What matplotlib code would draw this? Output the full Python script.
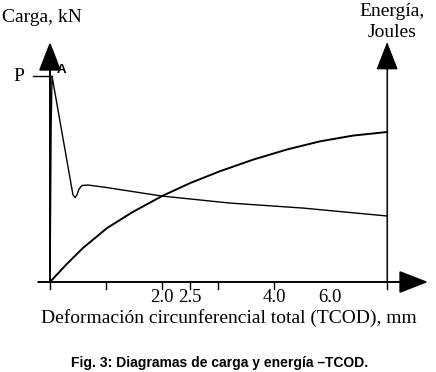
import matplotlib
matplotlib.use("Agg")
import matplotlib.pyplot as plt

# schematic units: 1 x-unit = one tick spacing, y-units arbitrary
load_x = [0.0, 0.01, 0.02, 0.036, 0.41, 0.45, 0.48, 0.52, 0.57, 0.68, 1.0, 2.0, 3.21, 4.52, 6.02]
load_y = [0.0, 3.0, 6.5, 8.58, 3.63, 3.52, 3.63, 3.88, 4.02, 4.04, 3.94, 3.58, 3.29, 3.08, 2.75]

energy_x = [0.0, 0.3, 0.59, 1.02, 1.48, 2.0, 2.5, 3.04, 3.63, 4.23, 4.82, 5.41, 6.02]
energy_y = [0.0, 0.75, 1.42, 2.25, 2.92, 3.58, 4.12, 4.62, 5.1, 5.52, 5.86, 6.1, 6.25]

tick_pos = [0, 1, 2, 2.5, 3, 4]
label_pos = [2, 2.5, 4, 5]
tick_labels = ["2.0", "2.5", "4.0", "6.0"]
p_level = 8.58
energy_axis_x = 6.02

serif = ["Liberation Serif", "DejaVu Serif"]

fig = plt.figure(figsize=(4.36, 3.72), dpi=100)
ax = fig.add_axes([0, 0, 1, 1])
ax.set_xlim(-50 / 56, (436 - 50) / 56)
ax.set_ylim(-90 / 24, 282 / 24)
ax.axis("off")

# axes with arrows
arrow = dict(arrowstyle="-|>,head_length=0.9,head_width=0.35", color="black", lw=1.4,
             shrinkA=0, shrinkB=0, mutation_scale=20)
ax.annotate("", xy=(0, 10), xytext=(0, 0), arrowprops=arrow)
ax.annotate("", xy=(6.75, 0), xytext=(-0.21, 0), arrowprops=arrow)
arrow_r = dict(arrow, lw=0.9)
ax.annotate("", xy=(energy_axis_x, 10), xytext=(energy_axis_x, 0), arrowprops=arrow_r)
ax.plot([energy_axis_x, energy_axis_x], [0, 9.2], color="#555555", lw=0.9)

for t in tick_pos + [energy_axis_x]:
    ax.plot([t, t], [0, -0.3], color="black", lw=1.0)
for p, lab in zip(label_pos, tick_labels):
    ax.text(p, -0.63, lab, ha="center", va="center", fontsize=13.5, family=serif)

# curves
ax.plot(load_x, load_y, color="black", lw=1.0)
ax.plot(energy_x, energy_y, color="black", lw=1.4)

ax.plot([-0.3, 0.04], [p_level, p_level], color="black", lw=1.0)
ax.text(-0.55, p_level, "P", ha="center", va="center", fontsize=14, family=serif)
ax.text(0.12, 8.83, "A", ha="left", va="center", fontsize=9.5, fontweight="bold",
        family="Liberation Sans")

ax.text(-0.85, 11.0, "Carga, kN", ha="left", va="center", fontsize=14, family=serif)
ax.text(6.107, 11.29, "Energía,", ha="center", va="center", fontsize=14, family=serif)
ax.text(6.107, 10.38, "Joules", ha="center", va="center", fontsize=14, family=serif)
ax.text(3.2, -1.5, "Deformación circunferencial total (TCOD), mm", ha="center", va="center",
        fontsize=14, family=serif)
ax.text(3.03, -3.375, "Fig. 3: Diagramas de carga y energía –TCOD.", ha="center", va="center",
        fontsize=10, fontweight="bold", family="Liberation Sans")

fig.savefig("out.png", dpi=100)
